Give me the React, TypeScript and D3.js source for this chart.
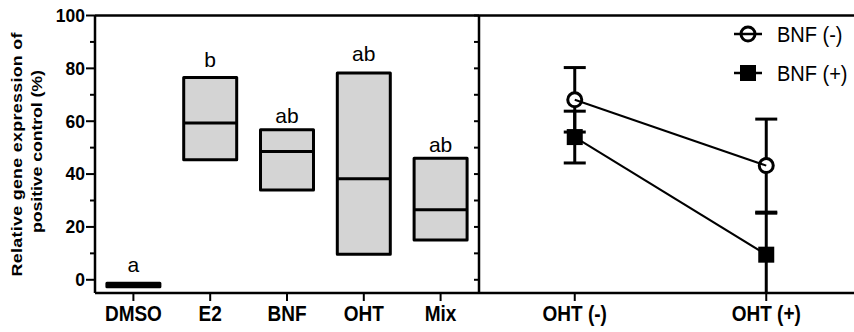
import React from "react";
import * as d3 from "d3";

const categories = ["DMSO", "E2", "BNF", "OHT", "Mix"];
const boxMin = [-2.6, 45.4, 34.0, 9.7, 15.1];
const boxMax = [-1.3, 76.5, 56.8, 78.2, 46.0];
const boxMid = [-1.95, 59.3, 48.5, 38.2, 26.5];
const letters = ["a", "b", "ab", "ab", "ab"];
const letterValues = [3.1, 80.7, 59.3, 82.6, 48.5];

const groups = ["OHT (-)", "OHT (+)"];
const bnfMinusMean = [68.1, 43.2];
const bnfMinusErr = [12.2, 17.6];
const bnfPlusMean = [54.0, 9.5];
const bnfPlusErr = [9.8, 15.7];
const legendLabels = ["BNF (-)", "BNF (+)"];

const yTicksMajor = [0, 20, 40, 60, 80, 100];
const yTicksMinor = [10, 30, 50, 70, 90];

const W = 854;
const H = 332;
const FONT = "'Liberation Sans', Arial, sans-serif";
const STRETCH = 1.15;

export default function App() {
  const left = 95;
  const divider = 479;
  const top = 15.5;
  const bottom = 293;
  const y = d3.scaleLinear().domain([-5, 100]).range([bottom, top]);
  const xb = d3
    .scaleBand<string>()
    .domain(categories)
    .range([left, divider])
    .paddingInner(0.31)
    .paddingOuter(0.155);
  const xp = d3.scalePoint<string>().domain(groups).range([divider, 862]).padding(0.5);
  const line = d3
    .line<[number, number]>()
    .x((d) => d[0])
    .y((d) => d[1]);
  const clampY = (v: number) => y(Math.max(-5, Math.min(100, v)));

  const series = [
    { mean: bnfPlusMean, err: bnfPlusErr, kind: "square" },
    { mean: bnfMinusMean, err: bnfMinusErr, kind: "circle" },
  ];
  const capW = 22;

  const marker = (kind: string, cx: number, cy: number, key?: string) =>
    kind === "circle" ? (
      <circle key={key} cx={cx} cy={cy} r={7} fill="#fff" stroke="#000" strokeWidth={3} />
    ) : (
      <rect key={key} x={cx - 8} y={cy - 8} width={16} height={16} fill="#000" />
    );

  return (
    <svg
      width={W}
      height={H}
      style={{ position: "absolute", left: 0, top: 0, background: "#fff" }}
      fontFamily={FONT}
    >
      <rect width={W} height={H} fill="#fff" />
      {/* y axis title */}
      <text
        transform={`translate(22,154.5) scale(1,${STRETCH}) rotate(-90)`}
        textAnchor="middle"
        fontSize={15.5}
        fontWeight="bold"
        textLength={244 / STRETCH}
        lengthAdjust="spacing"
      >
        Relative gene expression of
      </text>
      <text
        transform={`translate(42,151.5) scale(1,${STRETCH}) rotate(-90)`}
        textAnchor="middle"
        fontSize={15.5}
        fontWeight="bold"
        textLength={163 / STRETCH}
        lengthAdjust="spacing"
      >
        positive control (%)
      </text>

      {/* y ticks */}
      {yTicksMajor.map((t) => (
        <g key={"M" + t}>
          <line x1={left - 9} x2={left} y1={y(t)} y2={y(t)} stroke="#000" strokeWidth={2} />
          <text x={85} y={y(t)} dy="0.36em" textAnchor="end" fontSize={17.5} fontWeight="bold">
            {t}
          </text>
        </g>
      ))}
      {yTicksMinor.map((t) => (
        <line key={"m" + t} x1={left - 5} x2={left} y1={y(t)} y2={y(t)} stroke="#000" strokeWidth={2} />
      ))}
      {/* divider ticks */}
      {d3.range(0, 101, 10).map((t) => (
        <line key={"d" + t} x1={divider - 5} x2={divider} y1={y(t)} y2={y(t)} stroke="#000" strokeWidth={2} />
      ))}

      {/* boxes */}
      {categories.map((c, i) => {
        const x0 = xb(c)!;
        const bw = xb.bandwidth();
        const yt = y(boxMax[i]);
        const yb = y(boxMin[i]);
        const small = yb - yt < 6;
        return (
          <g key={c}>
            <rect
              x={x0}
              y={yt}
              width={bw}
              height={yb - yt}
              fill={small ? "#000" : "#d4d4d4"}
              stroke="#000"
              strokeWidth={3}
              strokeLinejoin="round"
            />
            <line x1={x0} x2={x0 + bw} y1={y(boxMid[i])} y2={y(boxMid[i])} stroke="#000" strokeWidth={3} />
            <text x={x0 + bw / 2} y={y(letterValues[i])} textAnchor="middle" fontSize={21}>
              {letters[i]}
            </text>
          </g>
        );
      })}

      {/* x ticks & labels left */}
      {categories.map((c) => {
        const cx = xb(c)! + xb.bandwidth() / 2;
        return (
          <g key={"xt" + c}>
            <line x1={cx} x2={cx} y1={bottom} y2={bottom + 8} stroke="#000" strokeWidth={2} />
            <text
              transform={`translate(${cx},321) scale(1,${STRETCH})`}
              textAnchor="middle"
              fontSize={19}
              fontWeight="bold"
            >
              {c}
            </text>
          </g>
        );
      })}
      {groups.map((g) => (
        <g key={"xg" + g}>
          <line x1={xp(g)!} x2={xp(g)!} y1={bottom} y2={bottom + 8} stroke="#000" strokeWidth={2} />
          <text
            transform={`translate(${xp(g)!},321) scale(1,${STRETCH})`}
            textAnchor="middle"
            fontSize={19}
            fontWeight="bold"
          >
            {g}
          </text>
        </g>
      ))}

      {/* error bars */}
      {series.map((s, si) =>
        groups.map((g, i) => {
          const cx = xp(g)!;
          const hi = s.mean[i] + s.err[i];
          const lo = s.mean[i] - s.err[i];
          return (
            <g key={"e" + si + i}>
              <line x1={cx} x2={cx} y1={clampY(hi)} y2={clampY(lo)} stroke="#000" strokeWidth={3} />
              {hi <= 100 && (
                <line x1={cx - capW / 2} x2={cx + capW / 2} y1={y(hi)} y2={y(hi)} stroke="#000" strokeWidth={3} />
              )}
              {lo >= -5 && (
                <line x1={cx - capW / 2} x2={cx + capW / 2} y1={y(lo)} y2={y(lo)} stroke="#000" strokeWidth={3} />
              )}
            </g>
          );
        })
      )}
      {/* markers */}
      {series.map((s, si) => groups.map((g, i) => marker(s.kind, xp(g)!, y(s.mean[i]), "mk" + si + i)))}
      {/* connecting lines */}
      {series.map((s, si) => (
        <path
          key={"l" + si}
          d={line(groups.map((g, i) => [xp(g)!, y(s.mean[i])]))!}
          fill="none"
          stroke="#000"
          strokeWidth={2}
        />
      ))}

      {/* legend */}
      {legendLabels.map((lab, i) => {
        const ly = i === 0 ? 34 : 73;
        return (
          <g key={lab}>
            {marker(i === 0 ? "circle" : "square", 748, ly)}
            <line x1={734} x2={762} y1={ly} y2={ly} stroke="#000" strokeWidth={2.5} />
            <text
              transform={`translate(777,${ly + 8}) scale(1,1.1)`}
              fontSize={20}
            >
              {lab}
            </text>
          </g>
        );
      })}

      {/* frame */}
      <line x1={left} x2={W} y1={top} y2={top} stroke="#000" strokeWidth={2.5} />
      <line x1={left} x2={W} y1={bottom} y2={bottom} stroke="#000" strokeWidth={2.5} />
      <line x1={left} x2={left} y1={top} y2={bottom} stroke="#000" strokeWidth={2.5} />
      <line x1={divider} x2={divider} y1={top} y2={bottom} stroke="#000" strokeWidth={2.5} />
    </svg>
  );
}
